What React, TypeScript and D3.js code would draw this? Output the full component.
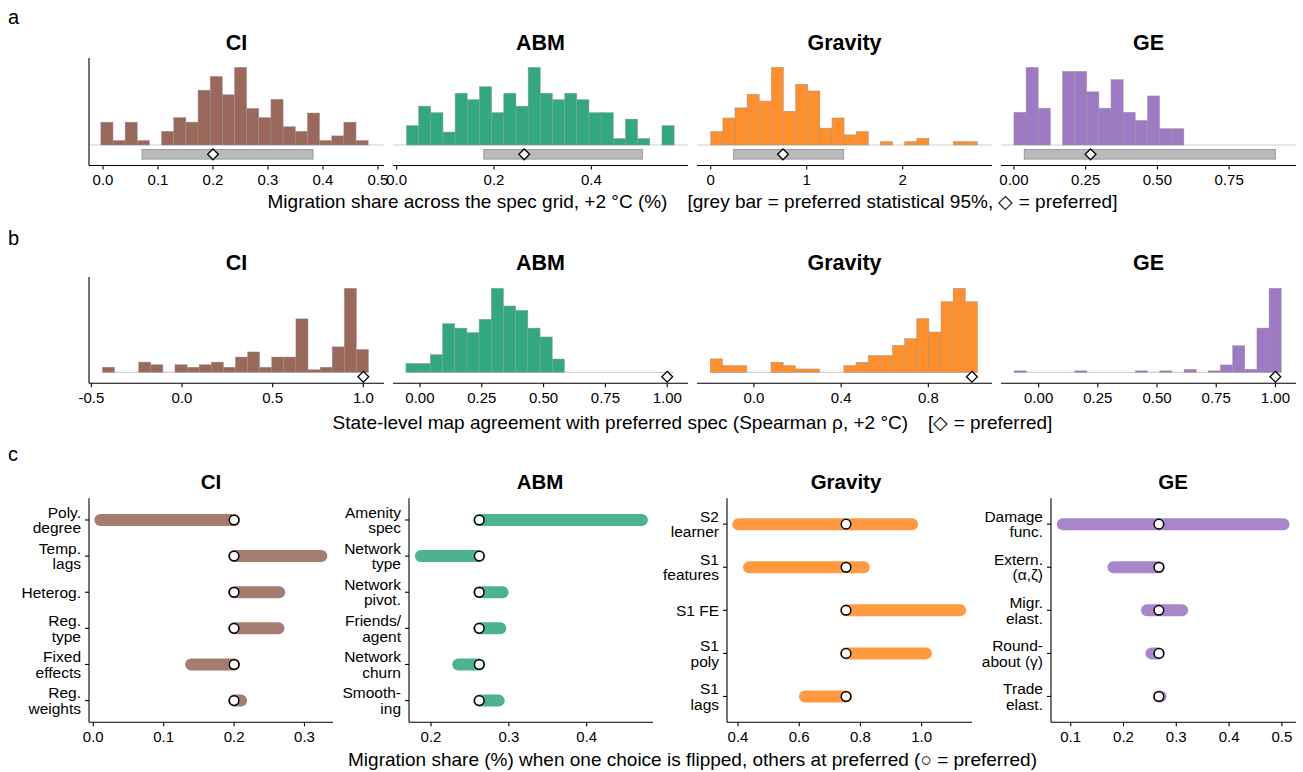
import React from "react";
import * as d3 from "d3";

const FONT = '"Liberation Sans", Arial, Helvetica, sans-serif';
const W = 1303;
const H = 772;

const models = ["CI", "ABM", "Gravity", "GE"];
const histColors = ["#9b685c", "#32a882", "#ff8f2c", "#9e79c4"];
const lolliColors = ["#a67c70", "#4cb291", "#ff9a40", "#a886ca"];

// ---------- Panel a: migration share histograms ----------
const shareBinStart = [-0.004, 0.02, 0.0, 0.0];
const shareBinWidth = [0.0221, 0.025, 0.1263, 0.0423];
const shareCountsCI = [5, 1, 5, 1, 0, 3, 6, 5, 12, 15, 11, 17, 8, 6, 10, 4, 3, 7, 1, 2, 5, 1];
const shareCountsABM = [3, 6, 5, 2, 8, 7, 9, 5, 8, 6, 12, 8, 7, 8, 7, 5, 5, 1, 4, 1, 0, 3];
const shareCountsGravity = [4, 8, 11, 15, 13, 23, 10, 18, 16, 5, 8, 3, 4, 0, 1, 0, 1, 2, 0, 0, 1, 1];
const shareCountsGE = [8, 19, 9, 0, 18, 18, 13, 9, 16, 8, 6, 12, 4, 4];
const shareCounts = [shareCountsCI, shareCountsABM, shareCountsGravity, shareCountsGE];
const shareCI95Lo = [0.071, 0.179, 0.236, 0.036];
const shareCI95Hi = [0.382, 0.505, 1.385, 0.911];
const preferredShare = [0.2, 0.262, 0.753, 0.267];
const shareDomains = [
  [-0.0255, 0.511],
  [-0.0076, 0.5985],
  [-0.143, 2.93],
  [-0.045, 0.983],
];
const shareTicks = [
  [0, 0.1, 0.2, 0.3, 0.4, 0.5],
  [0, 0.2, 0.4],
  [0, 1, 2],
  [0, 0.25, 0.5, 0.75],
];
const shareTickFormats = [".1f", ".1f", "d", ".2f"];

// ---------- Panel b: Spearman rho histograms ----------
const rhoBinStart = [-0.439, -0.0566, -0.2, -0.104];
const rhoBinWidth = [0.0667, 0.0493, 0.0557, 0.0513];
const rhoCountsCI = [2, 0, 0, 4, 3, 0, 3, 2, 3, 4, 2, 6, 8, 2, 6, 6, 21, 1, 2, 10, 33, 9];
const rhoCountsABM = [2, 2, 4, 11, 10, 9, 12, 19, 15, 14, 10, 8, 3, 0, 0, 0, 0, 0, 0, 0, 0, 0];
const rhoCountsGravity = [4, 2, 2, 0, 0, 3, 2, 1, 1, 0, 0, 2, 3, 5, 5, 8, 10, 16, 12, 21, 25, 21];
const rhoCountsGE = [1, 0, 0, 0, 0, 1, 0, 0, 0, 0, 1, 0, 1, 0, 2, 0, 1, 5, 18, 2, 30, 57];
const rhoCounts = [rhoCountsCI, rhoCountsABM, rhoCountsGravity, rhoCountsGE];
const preferredRho = [1, 1, 1, 1];
const rhoDomains = [
  [-0.513, 1.114],
  [-0.109, 1.084],
  [-0.261, 1.092],
  [-0.159, 1.087],
];
const rhoTicks = [
  [-0.5, 0, 0.5, 1],
  [0, 0.25, 0.5, 0.75, 1],
  [0, 0.4, 0.8],
  [0, 0.25, 0.5, 0.75, 1],
];
const rhoTickFormats = [".1f", ".2f", ".1f", ".2f"];

// ---------- Panel c: one-at-a-time flips ----------
const choicesCI = ["Poly.\ndegree", "Temp.\nlags", "Heterog.", "Reg.\ntype", "Fixed\neffects", "Reg.\nweights"];
const flipLoCI = [0.01, 0.2, 0.2, 0.2, 0.139, 0.2];
const flipHiCI = [0.2, 0.324, 0.264, 0.263, 0.2, 0.21];
const choicesABM = ["Amenity\nspec", "Network\ntype", "Network\npivot.", "Friends/\nagent", "Network\nchurn", "Smooth-\ning"];
const flipLoABM = [0.262, 0.187, 0.262, 0.262, 0.235, 0.262];
const flipHiABM = [0.471, 0.262, 0.292, 0.289, 0.262, 0.287];
const choicesGravity = ["S2\nlearner", "S1\nfeatures", "S1 FE", "S1\npoly", "S1\nlags"];
const flipLoGravity = [0.401, 0.436, 0.753, 0.753, 0.619];
const flipHiGravity = [0.969, 0.811, 1.126, 1.014, 0.753];
const choicesGE = ["Damage\nfunc.", "Extern.\n(α,ζ)", "Migr.\nelast.", "Round-\nabout (γ)", "Trade\nelast."];
const flipLoGE = [0.085, 0.181, 0.2445, 0.253, 0.267];
const flipHiGE = [0.503, 0.267, 0.311, 0.267, 0.27];
const choices = [choicesCI, choicesABM, choicesGravity, choicesGE];
const flipLo = [flipLoCI, flipLoABM, flipLoGravity, flipLoGE];
const flipHi = [flipHiCI, flipHiABM, flipHiGravity, flipHiGE];
const flipDomains = [
  [-0.0061, 0.3405],
  [0.1717, 0.4853],
  [0.364, 1.1647],
  [0.0627, 0.5267],
];
const flipTicks = [
  [0, 0.1, 0.2, 0.3],
  [0.2, 0.3, 0.4],
  [0.4, 0.6, 0.8, 1.0],
  [0.1, 0.2, 0.3, 0.4, 0.5],
];
const flipTickFormats = [".1f", ".1f", ".1f", ".1f"];

// ---------- text ----------
const titleA1 = "Migration share across the spec grid, +2 °C (%)";
const titleA2 = "[grey bar = preferred statistical 95%, ◇ = preferred]";
const titleB1 = "State-level map agreement with preferred spec (Spearman ρ, +2 °C)";
const titleB2 = "[◇ = preferred]";
const titleC = "Migration share (%) when one choice is flipped, others at preferred (○ = preferred)";

// ---------- layout ----------
const abLeft = [89, 393, 697, 1001];
const abRight = [384, 688, 992, 1296];
const cLeft = [89, 409, 727, 1051];
const cRight = [333, 653, 972, 1296];
const cTitleX = [211, 540, 846, 1173];
const rowA = { top: 58, bottom: 165.5, base: 145, peak: 67.3, title: 49.5 };
const rowB = { top: 277, bottom: 383.3, base: 372.3, peak: 288.3, title: 269.5 };
const rowC = { top: 498.3, bottom: 722.3, title: 489 };

const fmt = (f: string) => {
  const g = d3.format(f);
  return (v: number) => g(v).replace("\u2212", "-");
};

function XAxis({ scale, y, ticks, format, x0, x1 }: any) {
  const f = fmt(format);
  return (
    <g>
      <line x1={x0} x2={x1} y1={y} y2={y} stroke="#000" strokeWidth={1.1} />
      {ticks.map((t: number) => (
        <g key={t}>
          <line x1={scale(t)} x2={scale(t)} y1={y} y2={y + 4} stroke="#000" strokeWidth={1.1} />
          <text x={scale(t)} y={y + 19.5} textAnchor="middle" fontSize={15} fill="#000">
            {f(t)}
          </text>
        </g>
      ))}
    </g>
  );
}

const diamond = (cx: number, cy: number, r: number) =>
  `M${cx},${cy - r}L${cx + r},${cy}L${cx},${cy + r}L${cx - r},${cy}Z`;

function HistPanel({ i, row, counts, binStart, binWidth, domain, ticks, format, pref, lo, hi, fullLine }: any) {
  const x = d3.scaleLinear().domain(domain).range([abLeft[i], abRight[i]]);
  const max = d3.max(counts as number[]) as number;
  const y = d3.scaleLinear().domain([0, max]).range([row.base, row.peak]);
  const n = counts.length;
  const bins = counts.map((c: number, k: number) => ({
    c,
    x0: binStart + k * binWidth,
    x1: binStart + (k + 1) * binWidth,
  }));
  const markY = lo != null ? y(-0.12 * max) : y(-0.0524 * max);
  const halfH = y(0) - y(0.0618 * max);
  return (
    <g>
      <text x={(abLeft[i] + abRight[i]) / 2} y={row.title} textAnchor="middle" fontSize={21.5} fontWeight="bold">
        {models[i]}
      </text>
      {fullLine ? (
        <line x1={abLeft[i]} x2={abRight[i]} y1={y(0)} y2={y(0)} stroke="#cfcfcf" strokeWidth={1} />
      ) : (
        <line
          x1={x(binStart)}
          x2={x(binStart + n * binWidth)}
          y1={y(0)}
          y2={y(0)}
          stroke="#c8c8c8"
          strokeWidth={1}
        />
      )}
      {bins
        .filter((b: any) => b.c > 0)
        .map((b: any, k: number) => (
          <rect
            key={k}
            x={x(b.x0)}
            width={x(b.x1) - x(b.x0)}
            y={y(b.c)}
            height={y(0) - y(b.c)}
            fill={histColors[i]}
            stroke="rgba(150,150,150,0.9)"
            strokeWidth={0.5}
          />
        ))}
      {lo != null && (
        <rect
          x={x(lo)}
          width={x(hi) - x(lo)}
          y={markY - halfH}
          height={2 * halfH}
          fill="#bababa"
          stroke="#8e8e8e"
          strokeWidth={0.8}
        />
      )}
      <path d={diamond(x(pref), markY, 5.4)} fill="#fff" stroke="#000" strokeWidth={1.3} />
      {i === 0 && <line x1={abLeft[0]} x2={abLeft[0]} y1={row.top} y2={row.bottom} stroke="#000" strokeWidth={1.1} />}
      <XAxis scale={x} y={row.bottom} ticks={ticks} format={format} x0={abLeft[i]} x1={abRight[i]} />
    </g>
  );
}

function FlipPanel({ i }: any) {
  const x = d3.scaleLinear().domain(flipDomains[i]).range([cLeft[i], cRight[i]]);
  const y = d3.scalePoint().domain(choices[i]).range([rowC.top, rowC.bottom]).padding(0.6);
  const ax = cLeft[i];
  return (
    <g>
      <text x={cTitleX[i]} y={rowC.title} textAnchor="middle" fontSize={20.5} fontWeight="bold">
        {models[i]}
      </text>
      {choices[i].map((c, k) => {
        const cy = y(c) as number;
        const lines = c.split("\n");
        return (
          <g key={c}>
            <line x1={ax - 4} x2={ax} y1={cy} y2={cy} stroke="#000" strokeWidth={1.1} />
            <text textAnchor="end" fontSize={15.5} fill="#000">
              {lines.map((l, j) => (
                <tspan key={j} x={ax - 8} y={cy + 5.5 + (j - (lines.length - 1) / 2) * 15.4}>
                  {l}
                </tspan>
              ))}
            </text>
            <line
              x1={x(flipLo[i][k])}
              x2={x(flipHi[i][k])}
              y1={cy}
              y2={cy}
              stroke={lolliColors[i]}
              strokeWidth={12}
              strokeLinecap="round"
            />
            <circle cx={x(preferredShare[i])} cy={cy} r={4.8} fill="#fff" stroke="#000" strokeWidth={1.5} />
          </g>
        );
      })}
      <line x1={ax} x2={ax} y1={rowC.top} y2={rowC.bottom} stroke="#000" strokeWidth={1.1} />
      <XAxis scale={x} y={rowC.bottom} ticks={flipTicks[i]} format={flipTickFormats[i]} x0={cLeft[i]} x1={cRight[i]} />
    </g>
  );
}

export default function App() {
  const mid = (abLeft[0] + abRight[3]) / 2;
  return (
    <svg
      width={W}
      height={H}
      viewBox={`0 0 ${W} ${H}`}
      style={{ position: "absolute", left: 0, top: 0, background: "#fff" }}
      fontFamily={FONT}
    >
      <rect width={W} height={H} fill="#fff" />
      <text x={8} y={24} fontSize={20}>a</text>
      <text x={8} y={245} fontSize={20}>b</text>
      <text x={8} y={461} fontSize={20}>c</text>

      {models.map((m, i) => (
        <HistPanel
          key={"a" + m}
          i={i}
          row={rowA}
          counts={shareCounts[i]}
          binStart={shareBinStart[i]}
          binWidth={shareBinWidth[i]}
          domain={shareDomains[i]}
          ticks={shareTicks[i]}
          format={shareTickFormats[i]}
          pref={preferredShare[i]}
          lo={shareCI95Lo[i]}
          hi={shareCI95Hi[i]}
          fullLine={true}
        />
      ))}
      <text x={mid} y={207.5} textAnchor="middle" fontSize={19}>
        <tspan>{titleA1}</tspan>
        <tspan dx={20}>{titleA2}</tspan>
      </text>

      {models.map((m, i) => (
        <HistPanel
          key={"b" + m}
          i={i}
          row={rowB}
          counts={rhoCounts[i]}
          binStart={rhoBinStart[i]}
          binWidth={rhoBinWidth[i]}
          domain={rhoDomains[i]}
          ticks={rhoTicks[i]}
          format={rhoTickFormats[i]}
          pref={preferredRho[i]}
          fullLine={false}
        />
      ))}
      <text x={mid} y={428.5} textAnchor="middle" fontSize={19}>
        <tspan>{titleB1}</tspan>
        <tspan dx={20}>{titleB2}</tspan>
      </text>

      {models.map((m, i) => (
        <FlipPanel key={"c" + m} i={i} />
      ))}
      <text x={mid} y={765.5} textAnchor="middle" fontSize={19}>
        {titleC}
      </text>
    </svg>
  );
}
